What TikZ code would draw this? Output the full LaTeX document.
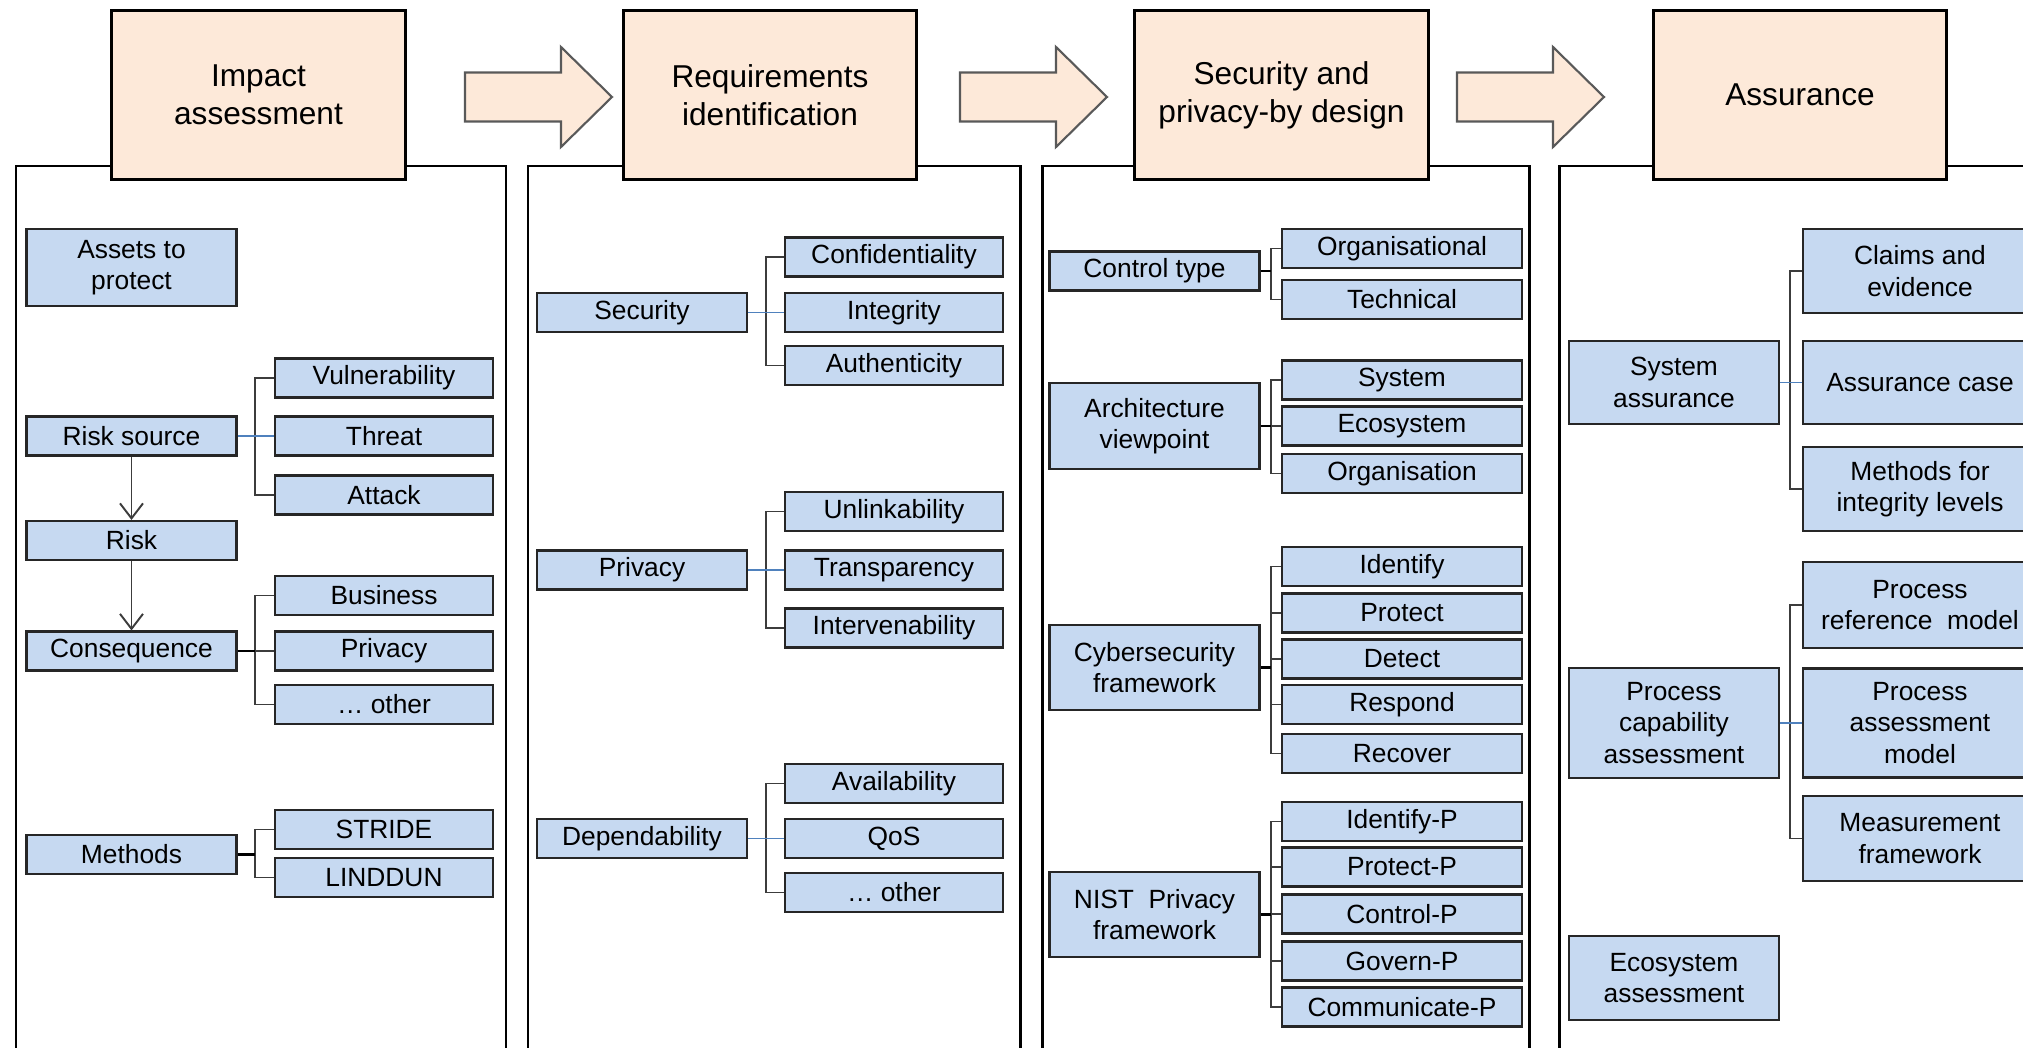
\documentclass[tikz,border=0pt]{standalone}
\usepackage{fontspec}
\setmainfont{Liberation Sans}
\usetikzlibrary{arrows.meta}

\definecolor{stagefill}{RGB}{253,233,217}
\definecolor{topicfill}{RGB}{198,217,241}
\definecolor{hubblue}{RGB}{79,129,189}
\definecolor{tiegray}{RGB}{60,60,60}

\begin{document}
\begin{tikzpicture}[x=0.02cm, y=-0.02cm, >={Straight Barb[length=3mm,width=4.6mm]},
    stage/.style={draw, line width=1.7pt, fill=stagefill, minimum width=5.88cm, minimum height=3.4cm, align=center, font=\fontsize{18}{21.6}\selectfont},
    panel/.style={draw, line width=1.7pt},
    topic/.style={draw=black!85, line width=1.2pt, fill=topicfill, minimum width=4.2cm, minimum height=0.78cm, inner sep=1pt, align=center, font=\fontsize{15}{18}\selectfont},
    leaf/.style={topic, minimum width=#1}, leaf/.default=4.36cm,
    tie/.style={draw=tiegray, line width=1.1pt},
    hub/.style={draw=hubblue, line width=0.9pt},
    hubk/.style={draw=black, line width=1.7pt},
    blockarrow/.style={draw=black!65, line width=1.2pt, fill=stagefill}]

  \useasboundingbox (0,0) rectangle (2023,1048);
  \clip (0,0) rectangle (2023,1048);

  % Panouri
  \draw[panel] (16,166) rectangle (506,1080);
  \draw[panel] (528,166) rectangle (1020,1080);
  \draw[panel] (1042,166) rectangle (1529,1080);
  \draw[panel] (1559,166) rectangle (2080,1080);

  % Sageti intre etape
  \foreach \ax in {465,960,1457}
    \draw[blockarrow] (\ax,72.5) -- ++(96,0) -- ++(0,-25.5) -- ++(51,50) -- ++(-51,50) -- ++(0,-25.5) -- ++(-96,0) -- cycle;

  % Etape
  \node[stage] (impact) at (258.5,95) {Impact\\assessment};
  \node[stage] (reqs) at (770,95) {Requirements\\identification};
  \node[stage] (design) at (1281.5,95) {Security and\\privacy-by design};
  \node[stage] (assure) at (1800,95) {Assurance};

  % Axe pentru acolade
  \coordinate (bar1) at (255,0);
  \coordinate (bar2) at (766,0);
  \coordinate (bar3) at (1271,0);
  \coordinate (bar4) at (1790,0);

  % Impact assessment
  \node[topic, minimum height=1.54cm] (assets) at (131.5,267.5) {Assets to\\protect};
  \node[topic] (risksrc) at (131.5,436) {Risk source};
  \node[leaf] (vuln) at (384,378) {Vulnerability};
  \node[leaf] (threat) at (384,436) {Threat};
  \node[leaf] (attack) at (384,495) {Attack};
  \node[topic] (risk) at (131.5,540.5) {Risk};
  \node[topic] (conseq) at (131.5,651) {Consequence};
  \node[leaf] (business) at (384,595.5) {Business};
  \node[leaf] (privimp) at (384,651) {Privacy};
  \node[leaf] (otherimp) at (384,704.5) {\ldots\ other};
  \node[topic] (methods) at (131.5,854.5) {Methods};
  \node[leaf] (stride) at (384,829.5) {STRIDE};
  \node[leaf] (linddun) at (384,877.5) {LINDDUN};

  \draw[tie] (vuln.west) -| (bar1 |- attack.west) -- (attack.west);
  \draw[hub] (risksrc.east) -- (threat.west);
  \draw[tie, ->] (risksrc) -- (risk);
  \draw[tie, ->] (risk) -- (conseq);
  \draw[tie] (business.west) -| (bar1 |- otherimp.west) -- (otherimp.west);
  \draw[tie] (bar1 |- privimp.west) -- (privimp.west);
  \draw[hubk] (conseq.east) -- (bar1 |- conseq.east);
  \draw[tie] (stride.west) -| (bar1 |- linddun.west) -- (linddun.west);
  \draw[hubk] (methods.east) -- (bar1 |- methods.east);

  % Requirements identification
  \node[topic] (security) at (642,312.5) {Security};
  \node[leaf] (confid) at (894,257) {Confidentiality};
  \node[leaf] (integ) at (894,312.5) {Integrity};
  \node[leaf] (authen) at (894,365.5) {Authenticity};
  \node[topic] (privreq) at (642,570) {Privacy};
  \node[leaf] (unlink) at (894,511.5) {Unlinkability};
  \node[leaf] (transp) at (894,570) {Transparency};
  \node[leaf] (interv) at (894,628) {Intervenability};
  \node[topic] (depend) at (642,838.5) {Dependability};
  \node[leaf] (avail) at (894,783.5) {Availability};
  \node[leaf] (qos) at (894,838.5) {QoS};
  \node[leaf] (otherreq) at (894,892.5) {\ldots\ other};

  \draw[tie] (confid.west) -| (bar2 |- authen.west) -- (authen.west);
  \draw[hub] (security.east) -- (integ.west);
  \draw[tie] (unlink.west) -| (bar2 |- interv.west) -- (interv.west);
  \draw[hub] (privreq.east) -- (transp.west);
  \draw[tie] (avail.west) -| (bar2 |- otherreq.west) -- (otherreq.west);
  \draw[hub] (depend.east) -- (qos.west);

  % Security and privacy-by design
  \node[topic] (ctrltype) at (1154.5,271) {Control type};
  \node[leaf=4.8cm] (orgal) at (1402,248.5) {Organisational};
  \node[leaf=4.8cm] (technical) at (1402,299.5) {Technical};
  \node[topic, minimum height=1.72cm] (archview) at (1154.5,426) {Architecture\\viewpoint};
  \node[leaf=4.8cm] (system) at (1402,380) {System};
  \node[leaf=4.8cm] (ecosys) at (1402,426) {Ecosystem};
  \node[leaf=4.8cm] (organ) at (1402,473.5) {Organisation};
  \node[topic, minimum height=1.7cm] (csf) at (1154.5,667.5) {Cybersecurity\\framework};
  \node[leaf=4.8cm] (ident) at (1402,566.5) {Identify};
  \node[leaf=4.8cm] (prot) at (1402,613) {Protect};
  \node[leaf=4.8cm] (detect) at (1402,659) {Detect};
  \node[leaf=4.8cm] (respond) at (1402,704.5) {Respond};
  \node[leaf=4.8cm] (recover) at (1402,753.5) {Recover};
  \node[topic, minimum height=1.7cm] (nist) at (1154.5,914.5) {NIST\ \ Privacy\\framework};
  \node[leaf=4.8cm] (identp) at (1402,821.5) {Identify-P};
  \node[leaf=4.8cm] (protp) at (1402,867) {Protect-P};
  \node[leaf=4.8cm] (ctrlp) at (1402,914) {Control-P};
  \node[leaf=4.8cm] (govp) at (1402,961) {Govern-P};
  \node[leaf=4.8cm] (commp) at (1402,1007) {Communicate-P};

  \draw[tie] (orgal.west) -| (bar3 |- technical.west) -- (technical.west);
  \draw[hubk] (ctrltype.east) -- (bar3 |- ctrltype.east);
  \draw[tie] (system.west) -| (bar3 |- organ.west) -- (organ.west);
  \draw[tie] (bar3 |- ecosys.west) -- (ecosys.west);
  \draw[hubk] (archview.east) -- (bar3 |- archview.east);
  \draw[tie] (ident.west) -| (bar3 |- recover.west) -- (recover.west);
  \foreach \k in {prot,detect,respond}
    \draw[tie] (bar3 |- \k.west) -- (\k.west);
  \draw[hubk] (csf.east) -- (bar3 |- csf.east);
  \draw[tie] (identp.west) -| (bar3 |- commp.west) -- (commp.west);
  \foreach \k in {protp,ctrlp,govp}
    \draw[tie] (bar3 |- \k.west) -- (\k.west);
  \draw[hubk] (nist.east) -- (bar3 |- nist.east);

  % Assurance
  \node[topic, minimum height=1.66cm] (sysassur) at (1674,382.5) {System\\assurance};
  \node[leaf=4.68cm, minimum height=1.68cm] (claims) at (1920,271) {Claims and\\evidence};
  \node[leaf=4.68cm, minimum height=1.66cm] (ascase) at (1920,382.5) {Assurance case};
  \node[leaf=4.68cm, minimum height=1.68cm] (intlevel) at (1920,489) {Methods for\\integrity levels};
  \node[topic, minimum height=2.2cm] (pcapab) at (1674,723) {Process\\capability\\assessment};
  \node[leaf=4.68cm, minimum height=1.72cm] (refmodel) at (1920,605) {Process\\reference\ \ model};
  \node[leaf=4.68cm, minimum height=2.18cm] (assmodel) at (1920,723) {Process\\assessment\\model};
  \node[leaf=4.68cm, minimum height=1.7cm] (measfw) at (1920,838.5) {Measurement\\framework};
  \node[topic, minimum height=1.68cm] (ecoassess) at (1674,978) {Ecosystem\\assessment};

  \draw[tie] (claims.west) -| (bar4 |- intlevel.west) -- (intlevel.west);
  \draw[hub] (sysassur.east) -- (ascase.west);
  \draw[tie] (refmodel.west) -| (bar4 |- measfw.west) -- (measfw.west);
  \draw[hub] (pcapab.east) -- (assmodel.west);

\end{tikzpicture}
\end{document}
